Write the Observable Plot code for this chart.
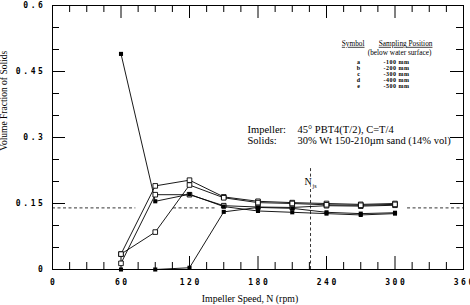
<!DOCTYPE html>
<html><head><meta charset="utf-8">
<script src="https://cdn.jsdelivr.net/npm/d3@7"></script>
<script src="https://cdn.jsdelivr.net/npm/@observablehq/plot@0.6"></script>
<style>body{margin:0;background:#fff}</style>
</head><body><div id="chart"></div>
<script>
// ---- data ----
const speeds = [60, 90, 120, 150, 180, 210, 240, 270, 300];
const seriesA = [0, 0, 0.004, 0.131, 0.141, 0.139, 0.130, 0.127, 0.129];      // filled
const seriesB = [0.035, 0.19, 0.203, 0.165, 0.155, 0.152, 0.150, 0.148, 0.150]; // open
const seriesC = [0.014, 0.17, 0.17, 0.145, 0.142, 0.141, 0.145, 0.144, 0.146];  // open
const seriesD = [0.035, 0.085, 0.192, 0.163, 0.152, 0.150, 0.147, 0.146, 0.148]; // open
const seriesE = [0.49, 0.155, 0.171, 0.143, 0.133, 0.130, 0.127, 0.124, 0.127]; // filled
const seriesNames = ["a", "b", "c", "d", "e"];
const seriesFilled = {a: true, b: false, c: false, d: false, e: true};

const xTicks = [0, 60, 120, 180, 240, 300, 360];
const xMinor = [15, 30, 45, 75, 90, 105, 135, 150, 165, 195, 210, 225, 255, 270, 285, 315, 330, 345];
const yTicks = [0, 0.15, 0.3, 0.45, 0.6];
const yMinor = [0.05, 0.1, 0.2, 0.25, 0.35, 0.4, 0.5, 0.55];

const legendSymbols = ["a", "b", "c", "d", "e"];
const legendPositions = ["-100 mm", "-200 mm", "-300 mm", "-400 mm", "-500 mm"];

const suspendedLevel = 0.14;       // 14% vol reference
const njs = 226;                    // just-suspended speed
const xTitle = "Impeller Speed, N (rpm)";
const yTitle = "Volume Fraction of Solids";

// ---- table ----
const allSeries = [seriesA, seriesB, seriesC, seriesD, seriesE];
const rows = [];
allSeries.forEach((vals, i) => vals.forEach((v, j) => rows.push({s: seriesNames[i], x: speeds[j], y: v})));

const W = 470, H = 305, mL = 52, mR = 7, mT = 5, mB = 36;
const pw = W - mL - mR, ph = H - mT - mB;
const serif = "Liberation Serif";

const legendRowY = [0.4718, 0.4580, 0.4441, 0.4302, 0.4164];

const plot = Plot.plot({
  width: W, height: H,
  marginLeft: mL, marginRight: mR, marginTop: mT, marginBottom: mB,
  x: {domain: [0, 360]},
  y: {domain: [0, 0.6]},
  style: {background: "white", color: "black"},
  marks: [
    // reference dashed lines
    Plot.ruleY([[0, 73], [106, 144], [311, 360]], {y: () => suspendedLevel, x1: d => d[0], x2: d => d[1], stroke: "black", strokeWidth: 0.8, strokeDasharray: "3,2.5"}),
    Plot.ruleX([[0, 0.19], [0.21, 0.233]], {x: () => njs, y1: d => d[0], y2: d => d[1], stroke: "black", strokeWidth: 0.8, strokeDasharray: "3,2.5"}),
    Plot.text(["N"], {x: () => njs, y: () => 0.199, dx: -2.5, fontFamily: serif, fontSize: 10}),
    Plot.text(["js"], {x: () => njs, y: () => 0.199, dx: 4, dy: 4, fontFamily: serif, fontSize: 6}),
    // ticks (inward)
    Plot.tickX(xMinor, {x: d => d, insetTop: ph - 7, stroke: "black"}),
    Plot.tickX(xTicks, {x: d => d, insetTop: ph - 13, stroke: "black"}),
    Plot.tickX(xMinor, {x: d => d, insetBottom: ph - 7, stroke: "black"}),
    Plot.tickX(xTicks, {x: d => d, insetBottom: ph - 13, stroke: "black"}),
    Plot.tickY(yMinor, {y: d => d, insetRight: pw - 7, stroke: "black"}),
    Plot.tickY(yTicks, {y: d => d, insetRight: pw - 13, stroke: "black"}),
    Plot.tickY(yMinor, {y: d => d, insetLeft: pw - 7, stroke: "black"}),
    Plot.tickY(yTicks, {y: d => d, insetLeft: pw - 13, stroke: "black"}),
    Plot.axisX({ticks: xTicks, tickSize: 0, tickPadding: 10, tickFormat: d => String(d), fontFamily: "DejaVu Sans Mono", fontSize: 8, fontWeight: "bold", label: null}),
    Plot.axisY({ticks: yTicks, tickSize: 0, tickPadding: 7, tickFormat: d => String(d), fontFamily: "DejaVu Sans Mono", fontSize: 8, fontWeight: "bold", label: null}),
    Plot.frame({stroke: "black", strokeWidth: 1}),
    // data
    Plot.line(rows, {x: "x", y: "y", z: "s", stroke: "black", strokeWidth: 0.9}),
    Plot.dot(rows.filter(d => !seriesFilled[d.s]), {x: "x", y: "y", symbol: "square", r: 2.6, stroke: "black", fill: "white", strokeWidth: 0.9}),
    Plot.dot(rows.filter(d => seriesFilled[d.s]), {x: "x", y: "y", symbol: "square", r: 2.3, fill: "black", stroke: "none"}),
    // annotations
    Plot.text(["Impeller:", "Solids:"], {x: () => 170.8, y: (d, i) => [0.319, 0.294][i], textAnchor: "start", fontFamily: serif, fontSize: 10.5}),
    Plot.text(["45° PBT4(T/2), C=T/4", "30% Wt 150-210µm sand (14% vol)"], {x: () => 214.6, y: (d, i) => [0.319, 0.294][i], textAnchor: "start", fontFamily: serif, fontSize: 10.5}),
    // legend table
    Plot.text(["Symbol"], {x: () => 273.3, y: () => 0.5136, textAnchor: "end", fontFamily: serif, fontSize: 7.3}),
    Plot.text(["Sampling Position"], {x: () => 332.8, y: () => 0.5136, textAnchor: "end", fontFamily: serif, fontSize: 7.3}),
    Plot.text(["(below water surface)"], {x: () => 304, y: () => 0.4923, fontFamily: serif, fontSize: 7.3}),
    Plot.text(legendSymbols, {x: () => 268, y: (d, i) => legendRowY[i], fontFamily: serif, fontSize: 6, fontWeight: "bold"}),
    Plot.text(legendPositions, {x: () => 290, y: (d, i) => legendRowY[i], textAnchor: "start", fontFamily: serif, fontSize: 6, fontWeight: "bold"}),
    // axis titles
    Plot.text([xTitle], {x: () => 173, frameAnchor: "bottom", dy: 32, fontFamily: serif, fontSize: 9.8}),
    Plot.text([yTitle], {y: () => 0.27, frameAnchor: "left", dx: -49, rotate: -90, fontFamily: serif, fontSize: 9.5})
  ]
});

// letter spacing for plotter-style tick labels; underline legend headers
d3.select(plot).selectAll('g[aria-label="x-axis tick label"] text').attr("letter-spacing", 2.6).attr("dx", 1.3);
d3.select(plot).selectAll('g[aria-label="y-axis tick label"] text').attr("letter-spacing", 2.6);
d3.select(plot).selectAll("text").filter(function() { return this.textContent === "Symbol" || this.textContent === "Sampling Position"; }).style("text-decoration", "underline");
d3.select(plot).selectAll("text").filter(function() { return /^-\d00 mm$/.test(this.textContent); }).attr("letter-spacing", 0.5);

document.getElementById("chart").appendChild(plot);
</script>
</body></html>
